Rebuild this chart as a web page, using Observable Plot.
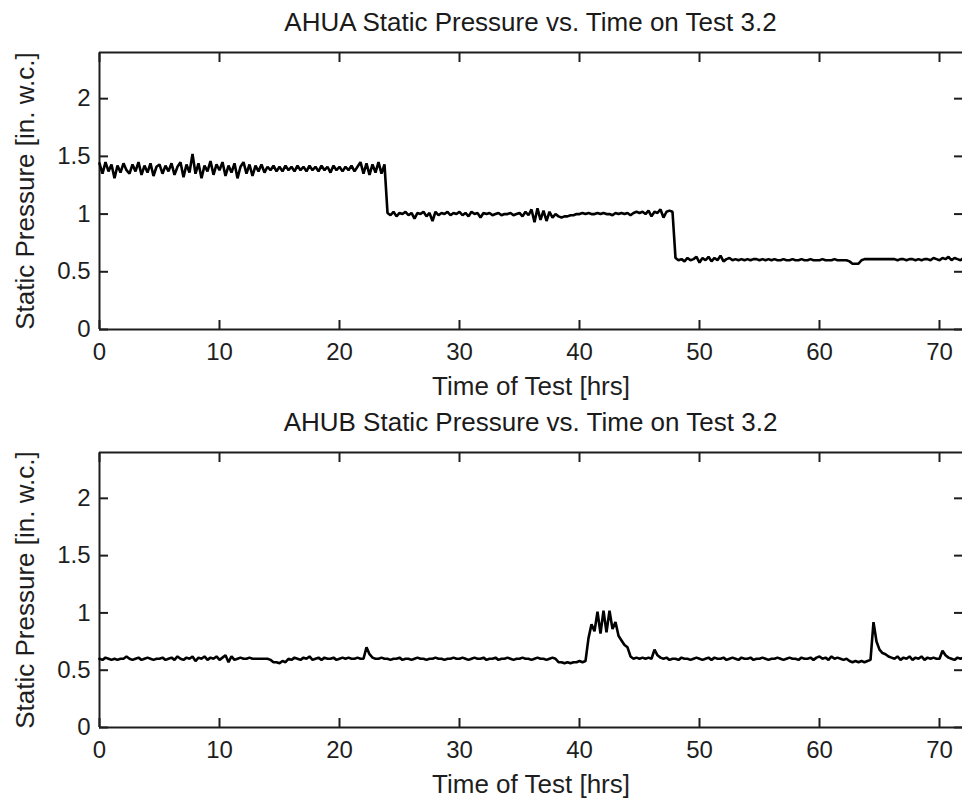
<!DOCTYPE html>
<html><head><meta charset="utf-8">
<script src="https://cdn.jsdelivr.net/npm/d3@7"></script>
<script src="https://cdn.jsdelivr.net/npm/@observablehq/plot@0.6"></script>
<style>
body{margin:0;background:#fff;font-family:"Liberation Sans",Arial,sans-serif;color:#1a1a1a;width:962px;overflow:hidden}
.title{margin-left:99px;width:863px;text-align:center;font-size:26px;white-space:nowrap}
</style></head><body>
<div class="title" style="height:44px;line-height:44px">AHUA Static Pressure vs. Time on Test 3.2</div>
<div id="p1"></div>
<div class="title" style="height:36px;line-height:36px">AHUB Static Pressure vs. Time on Test 3.2</div>
<div id="p2"></div>
<script>
const timeStep = 0.25; // hours between samples
const xTicks = [0,10,20,30,40,50,60,70];
const yTicks = [0,0.5,1,1.5,2];
const xLabel = "Time of Test [hrs]";
const yLabel = "Static Pressure [in. w.c.]";

const ahuaPressure = [
1.44,1.35,1.45,1.37,1.43,1.31,1.42,1.36,1.44,1.38,1.35,1.43,
1.37,1.45,1.34,1.42,1.36,1.44,1.33,1.41,1.43,1.35,1.42,1.37,
1.44,1.34,1.41,1.45,1.32,1.43,1.36,1.52,1.35,1.44,1.31,1.42,
1.37,1.46,1.34,1.43,1.38,1.45,1.33,1.42,1.36,1.44,1.31,1.41,
1.45,1.35,1.43,1.33,1.42,1.37,1.43,1.36,1.41,1.38,1.42,1.37,
1.41,1.37,1.42,1.38,1.41,1.37,1.42,1.38,1.41,1.37,1.42,1.38,
1.41,1.37,1.42,1.38,1.41,1.36,1.42,1.38,1.41,1.37,1.41,1.38,
1.42,1.37,1.41,1.45,1.35,1.44,1.34,1.43,1.36,1.45,1.35,1.43,
1.01,0.99,1.02,0.98,1.01,1.00,1.02,0.99,1.01,0.96,1.01,1.00,
1.02,0.98,1.01,0.94,1.02,0.99,1.01,1.00,1.02,0.99,1.01,1.00,
1.02,0.99,1.01,0.98,1.02,1.00,1.01,0.97,1.01,1.00,1.01,0.99,
1.00,1.01,0.99,1.00,1.00,1.01,0.99,1.00,1.01,0.98,1.02,0.99,
1.04,0.93,1.05,0.95,1.03,0.94,1.02,0.97,1.00,0.98,0.97,0.98,
0.98,0.99,0.99,1.00,1.00,1.01,1.00,1.01,1.00,1.00,1.01,1.00,
1.01,1.00,1.00,0.99,1.01,1.00,1.01,1.00,1.01,0.99,1.01,1.02,
1.01,1.02,1.00,1.03,0.98,1.02,1.01,1.04,0.97,1.02,1.03,1.02,
0.62,0.60,0.61,0.59,0.62,0.60,0.61,0.63,0.58,0.62,0.60,0.63,
0.59,0.62,0.60,0.64,0.59,0.61,0.62,0.60,0.61,0.60,0.61,0.60,
0.61,0.60,0.61,0.61,0.60,0.61,0.60,0.61,0.60,0.61,0.60,0.60,
0.61,0.60,0.60,0.61,0.60,0.60,0.61,0.60,0.60,0.61,0.60,0.60,
0.60,0.61,0.60,0.60,0.60,0.61,0.60,0.60,0.60,0.60,0.59,0.57,
0.57,0.57,0.60,0.61,0.61,0.61,0.61,0.61,0.61,0.61,0.61,0.61,
0.61,0.61,0.60,0.61,0.61,0.60,0.61,0.61,0.60,0.61,0.60,0.61,
0.61,0.60,0.62,0.61,0.60,0.62,0.61,0.63,0.60,0.62,0.61,0.60,
0.62];

const ahubPressure = [
0.60,0.59,0.61,0.60,0.59,0.60,0.59,0.60,0.60,0.62,0.60,0.59,
0.60,0.61,0.59,0.60,0.61,0.60,0.59,0.60,0.60,0.61,0.59,0.60,
0.61,0.59,0.62,0.60,0.59,0.61,0.60,0.62,0.58,0.61,0.60,0.62,
0.59,0.61,0.60,0.62,0.59,0.61,0.63,0.57,0.62,0.59,0.60,0.61,
0.60,0.60,0.61,0.60,0.60,0.60,0.60,0.60,0.60,0.59,0.57,0.57,
0.56,0.58,0.57,0.60,0.59,0.61,0.60,0.59,0.61,0.60,0.62,0.59,
0.60,0.61,0.59,0.61,0.60,0.60,0.61,0.59,0.60,0.61,0.60,0.61,
0.60,0.60,0.61,0.60,0.60,0.70,0.64,0.61,0.60,0.60,0.61,0.60,
0.60,0.59,0.60,0.60,0.61,0.59,0.60,0.60,0.59,0.60,0.61,0.60,
0.60,0.59,0.60,0.60,0.61,0.60,0.60,0.59,0.60,0.60,0.61,0.60,
0.60,0.61,0.60,0.59,0.60,0.61,0.60,0.60,0.61,0.59,0.60,0.60,
0.61,0.59,0.60,0.60,0.61,0.60,0.59,0.60,0.60,0.61,0.60,0.60,
0.59,0.60,0.61,0.60,0.60,0.59,0.60,0.61,0.60,0.57,0.57,0.56,
0.57,0.56,0.57,0.57,0.58,0.57,0.58,0.78,0.90,0.84,1.01,0.82,
1.02,0.83,1.02,0.86,0.92,0.80,0.76,0.72,0.70,0.62,0.60,0.61,
0.60,0.61,0.60,0.61,0.60,0.68,0.63,0.61,0.60,0.61,0.59,0.60,
0.60,0.59,0.61,0.60,0.60,0.59,0.60,0.61,0.60,0.59,0.60,0.61,
0.59,0.61,0.60,0.60,0.61,0.59,0.60,0.61,0.60,0.59,0.61,0.60,
0.60,0.61,0.59,0.60,0.60,0.61,0.60,0.59,0.60,0.60,0.61,0.60,
0.59,0.60,0.61,0.60,0.60,0.59,0.61,0.60,0.60,0.61,0.59,0.61,
0.62,0.60,0.61,0.59,0.62,0.60,0.61,0.60,0.59,0.60,0.58,0.57,
0.58,0.57,0.58,0.57,0.58,0.59,0.92,0.75,0.68,0.65,0.64,0.62,
0.61,0.60,0.62,0.59,0.61,0.60,0.62,0.59,0.61,0.60,0.62,0.59,
0.61,0.60,0.61,0.60,0.60,0.67,0.63,0.61,0.60,0.59,0.61,0.60,
0.61];

const ink = "#1e1e1e";
function panel(values, marginTop, frameH, height) {
  const data = values.map((v, i) => ({t: i * timeStep, p: v}));
  return Plot.plot({
    width: 962, height,
    marginLeft: 99, marginRight: 0, marginTop, marginBottom: height - marginTop - frameH,
    x: {domain: [0, 72], range: [99, 963]},
    y: {domain: [0, 2.4]},
    style: {fontFamily: '"Liberation Sans", Arial, sans-serif', fontSize: "24px", color: ink, background: "white", overflow: "visible"},
    marks: [
      Plot.ruleY([0, 2.4], {stroke: ink, strokeWidth: 2}),
      Plot.ruleX([0], {stroke: ink, strokeWidth: 2}),
      Plot.line(data, {x: "t", y: "p", stroke: "#000", strokeWidth: 2.6, strokeLinejoin: "miter"}),
      Plot.axisX(xTicks, {anchor: "bottom", tickSize: -9, tickPadding: 22, tickFormat: d => String(d), label: null, fontSize: 24, stroke: ink, fill: ink, strokeWidth: 2}),
      Plot.axisX(xTicks, {anchor: "top", tickSize: -9, fill: "none", label: null, stroke: ink, strokeWidth: 2}),
      Plot.axisY(yTicks, {anchor: "left", tickSize: -9, tickPadding: 18, tickFormat: d => String(d), label: null, fontSize: 24, stroke: ink, fill: ink, strokeWidth: 2}),
      Plot.axisY(yTicks, {anchor: "right", tickSize: -9, fill: "none", label: null, stroke: ink, strokeWidth: 2}),
      Plot.axisX([], {anchor: "bottom", tickSize: 0, label: xLabel, labelAnchor: "center", labelArrow: "none", labelOffset: 65, fontSize: 26, fill: ink}),
      Plot.axisY([], {anchor: "left", tickSize: 0, label: yLabel, labelAnchor: "center", labelArrow: "none", labelOffset: 84, fontSize: 26, fill: ink})
    ]
  });
}
document.getElementById("p1").append(panel(ahuaPressure, 8, 277, 360));
document.getElementById("p2").append(panel(ahubPressure, 12, 275, 359));
</script>
</body></html>
